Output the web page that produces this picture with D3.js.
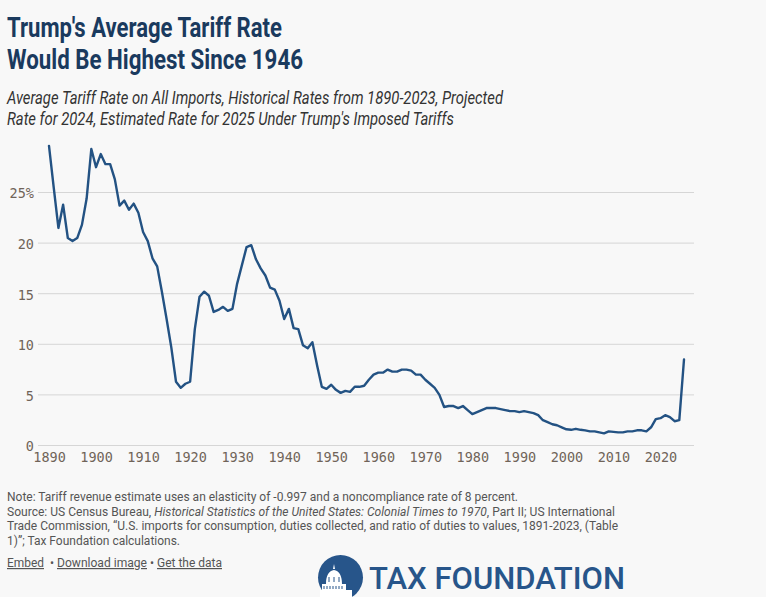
<!DOCTYPE html>
<html>
<head>
<meta charset="utf-8">
<script src="https://cdn.jsdelivr.net/npm/d3@7"></script>
<style>
  html, body { margin: 0; padding: 0; background: #f8f8f8; }
  svg { display: block; }
</style>
</head>
<body>
<svg id="chart" width="766" height="597"></svg>
<script>
// average tariff rate on all imports, % (1890-2023 historical, 2024 projected, 2025 estimated)
const years = d3.range(1890, 2026)
const rates = [
  29.6, 25.5, 21.5, 23.8, 20.5, 20.2, 20.5, 21.8, 24.4, 29.3,
  27.5, 28.8, 27.8, 27.8, 26.3, 23.7, 24.2, 23.3, 23.9, 23.0,
  21.1, 20.2, 18.5, 17.7, 15.2, 12.5, 9.7, 6.3, 5.7, 6.1,
  6.3, 11.5, 14.7, 15.2, 14.8, 13.2, 13.4, 13.7, 13.3, 13.5,
  16.0, 17.8, 19.6, 19.8, 18.4, 17.5, 16.8, 15.6, 15.4, 14.3,
  12.5, 13.5, 11.6, 11.5, 9.9, 9.6, 10.2, 7.9, 5.8, 5.6,
  6.0, 5.5, 5.2, 5.4, 5.3, 5.8, 5.8, 5.9, 6.5, 7.0,
  7.2, 7.2, 7.5, 7.3, 7.3, 7.5, 7.5, 7.4, 7.0, 7.0,
  6.5, 6.1, 5.7, 5.0, 3.8, 3.9, 3.9, 3.7, 3.9, 3.5,
  3.1, 3.3, 3.5, 3.7, 3.7, 3.7, 3.6, 3.5, 3.4, 3.4,
  3.3, 3.4, 3.3, 3.2, 3.0, 2.5, 2.3, 2.1, 2.0, 1.8,
  1.6, 1.55, 1.65, 1.55, 1.5, 1.4, 1.4, 1.3, 1.2, 1.4,
  1.35, 1.3, 1.3, 1.4, 1.4, 1.5, 1.5, 1.4, 1.8, 2.6,
  2.7, 3.0, 2.8, 2.4, 2.5, 8.5
]
const yTicks = [0, 5, 10, 15, 20, 25]
const xTicks = d3.range(1890, 2021, 10)

const titleLines = ["Trump's Average Tariff Rate", 'Would Be Highest Since 1946']
const subtitleLines = [
  'Average Tariff Rate on All Imports, Historical Rates from 1890-2023, Projected',
  "Rate for 2024, Estimated Rate for 2025 Under Trump's Imposed Tariffs"
]

const navy = '#1a3a5e'
const lineColor = '#235283'
const tickColor = '#706459'

const svg = d3.select('#chart')

// title
svg.selectAll('text.title')
  .data(titleLines)
  .join('text')
  .attr('class', 'title')
  .attr('x', 7)
  .attr('y', (d, i) => 37 + i * 32)
  .attr('textLength', (d, i) => i === 0 ? 275 : 296)
  .attr('lengthAdjust', 'spacingAndGlyphs')
  .attr('font-family', 'Roboto, sans-serif')
  .attr('font-weight', 700)
  .attr('font-size', 27)
  .attr('fill', navy)
  .text(d => d)

svg.selectAll('text.subtitle')
  .data(subtitleLines)
  .join('text')
  .attr('class', 'subtitle')
  .attr('x', 7)
  .attr('y', (d, i) => 104 + i * 21)
  .attr('textLength', (d, i) => i === 0 ? 496 : 447)
  .attr('lengthAdjust', 'spacingAndGlyphs')
  .attr('font-family', 'Roboto, sans-serif')
  .attr('font-style', 'italic')
  .attr('font-size', 18)
  .attr('fill', '#333')
  .text(d => d)

// scales
const x = d3.scaleLinear().domain([1890, 2025]).range([49, 684])
const y = d3.scaleLinear().domain([0, 25]).range([445.5, 192.5])

// gridlines
svg.append('g')
  .selectAll('line')
  .data(yTicks)
  .join('line')
  .attr('x1', 38)
  .attr('x2', 694)
  .attr('y1', d => y(d))
  .attr('y2', d => y(d))
  .attr('stroke', '#d6d6d6')
  .attr('stroke-width', 1)

// y axis labels
const yAxis = svg.append('g')
  .attr('transform', 'translate(34,0)')
  .call(d3.axisLeft(y).tickValues(yTicks).tickSize(0).tickPadding(0)
    .tickFormat(d => d === 25 ? d + '%' : d))
yAxis.select('.domain').remove()
yAxis.selectAll('text')
  .attr('font-family', '"DejaVu Sans Mono", monospace')
  .attr('font-size', 13.5)
  .attr('fill', tickColor)
  .attr('dy', '0.4em')

// x axis labels
const xAxis = svg.append('g')
  .attr('transform', 'translate(0,452)')
  .call(d3.axisBottom(x).tickValues(xTicks).tickSize(0).tickPadding(0)
    .tickFormat(d3.format('d')))
xAxis.select('.domain').remove()
xAxis.selectAll('text')
  .attr('font-family', '"DejaVu Sans Mono", monospace')
  .attr('font-size', 13.5)
  .attr('fill', tickColor)

// line
const line = d3.line()
  .x((d, i) => x(years[i]))
  .y(d => y(d))

svg.append('path')
  .datum(rates)
  .attr('d', line)
  .attr('fill', 'none')
  .attr('stroke', lineColor)
  .attr('stroke-width', 2.4)
  .attr('stroke-linejoin', 'round')
  .attr('stroke-linecap', 'round')

// notes
const notes = svg.append('g')
  .attr('font-family', 'Roboto, sans-serif')
  .attr('font-size', 12)
  .attr('fill', '#555')

notes.append('text').attr('x', 7).attr('y', 501)
  .attr('textLength', 511).attr('lengthAdjust', 'spacingAndGlyphs')
  .text('Note: Tariff revenue estimate uses an elasticity of -0.997 and a noncompliance rate of 8 percent.')

const src = notes.append('text').attr('x', 7).attr('y', 515.5)
  .attr('textLength', 608).attr('lengthAdjust', 'spacingAndGlyphs')
src.append('tspan').text('Source: US Census Bureau, ')
src.append('tspan').attr('font-style', 'italic').text('Historical Statistics of the United States: Colonial Times to 1970')
src.append('tspan').text(', Part II; US International')

notes.append('text').attr('x', 7).attr('y', 530)
  .attr('textLength', 611).attr('lengthAdjust', 'spacingAndGlyphs')
  .text('Trade Commission, \u201cU.S. imports for consumption, duties collected, and ratio of duties to values, 1891-2023, (Table')

notes.append('text').attr('x', 7).attr('y', 544.5)
  .attr('textLength', 173).attr('lengthAdjust', 'spacingAndGlyphs')
  .text('1)\u201d; Tax Foundation calculations.')

// links
const links = svg.append('g')
  .attr('font-family', 'Roboto, sans-serif')
  .attr('font-size', 12)
  .attr('fill', '#555')
links.append('text').attr('x', 7).attr('y', 567)
  .attr('text-decoration', 'underline')
  .attr('textLength', 37).attr('lengthAdjust', 'spacingAndGlyphs')
  .text('Embed')
links.append('text').attr('x', 50).attr('y', 567).text('\u2022')
links.append('text').attr('x', 57).attr('y', 567)
  .attr('text-decoration', 'underline')
  .attr('textLength', 90).attr('lengthAdjust', 'spacingAndGlyphs')
  .text('Download image')
links.append('text').attr('x', 150).attr('y', 567).text('\u2022')
links.append('text').attr('x', 157).attr('y', 567)
  .attr('text-decoration', 'underline')
  .attr('textLength', 65).attr('lengthAdjust', 'spacingAndGlyphs')
  .text('Get the data')

// logo
const logo = svg.append('g')
const logoBlue = '#27558a'
logo.append('circle').attr('cx', 340.5).attr('cy', 577.5).attr('r', 22.5).attr('fill', logoBlue)
// capitol dome silhouette
logo.append('path')
  .attr('d', 'M333,569 l1,-5 l1,5 Z M326,584 C326,575 329,571 334,570 C339,571 342,575 342,584 Z M322,590 L346,590 L346,584 L322,584 Z M320,597 L352,597 L352,590 L320,590 Z')
  .attr('fill', '#fff')
logo.append('path')
  .attr('d', 'M324,586 v3 M327,586 v3 M330,586 v3 M333,586 v3 M336,586 v3 M339,586 v3 M342,586 v3 M329,577 v5 M334,577 v5 M339,577 v5')
  .attr('stroke', logoBlue).attr('stroke-width', 1)
logo.append('text')
  .attr('x', 369).attr('y', 589)
  .attr('textLength', 256).attr('lengthAdjust', 'spacingAndGlyphs')
  .attr('font-family', 'Roboto, sans-serif')
  .attr('font-weight', 500)
  .attr('font-size', 31)
  .attr('fill', logoBlue)
  .text('TAX FOUNDATION')
</script>
</body>
</html>
